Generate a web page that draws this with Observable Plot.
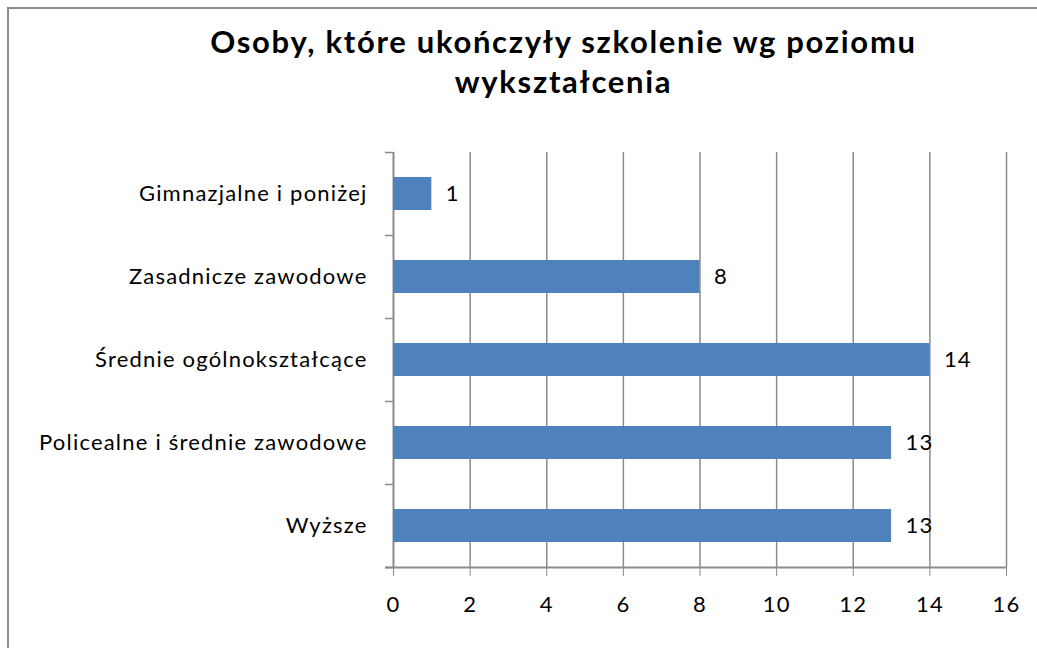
<!DOCTYPE html>
<html>
<head>
<meta charset="utf-8">
<script src="https://cdn.jsdelivr.net/npm/d3@7"></script>
<script src="https://cdn.jsdelivr.net/npm/@observablehq/plot@0.6"></script>
<style>
  html, body { margin: 0; padding: 0; background: #fff; width: 1037px; height: 648px; overflow: hidden; }
  #frame { position: absolute; left: 7px; top: 7px; width: 1100px; height: 700px; border-left: 2px solid #8c8c8c; border-top: 2px solid #8c8c8c; }
  #title { position: absolute; left: 0; top: 21px; width: 1127px; text-align: center; font-family: Lato, sans-serif; font-weight: bold; font-size: 31px; letter-spacing: 1.7px; line-height: 40px; color: #000; }
  #chart { position: absolute; left: 0; top: 100px; }
</style>
</head>
<body>
<div id="frame"></div>
<div id="title">Osoby, które ukończyły szkolenie wg poziomu<br>wykształcenia</div>
<div id="chart"></div>
<script>
const categories = ["Gimnazjalne i poniżej", "Zasadnicze zawodowe", "Średnie ogólnokształcące", "Policealne i średnie zawodowe", "Wyższe"];
const values = [1, 8, 14, 13, 13];
const xTicks = [0, 2, 4, 6, 8, 10, 12, 14, 16];

const data = categories.map((c, i) => ({category: c, value: values[i]}));
const gridColor = "#8c8c8c";
const font = "Lato, sans-serif";
const plotH = 548, mTop = 52, mBottom = 81;
const step = (plotH - mTop - mBottom) / categories.length;

const chart = Plot.plot({
  width: 1037,
  height: plotH,
  marginTop: mTop,
  marginBottom: mBottom,
  marginLeft: 393,
  marginRight: 31,
  style: {fontFamily: font, fontSize: "22px", letterSpacing: "1.2px", color: "#000", background: "transparent"},
  x: {domain: [0, 16], ticks: xTicks},
  y: {domain: categories, paddingInner: 0.6, paddingOuter: 0.3},
  marks: [
    Plot.ruleX(xTicks.slice(1), {stroke: gridColor, strokeWidth: 1.5}),
    Plot.ruleX([0], {stroke: gridColor, strokeWidth: 2}),
    Plot.barX(data, {x: "value", y: "category", fill: "#4F81BD"}),
    Plot.ruleY(categories, {y: d => d, x1: 0, x2: 0, insetLeft: -8, dy: step / 2, stroke: gridColor, strokeWidth: 1.5}),
    Plot.ruleY([categories[0]], {y: d => d, x1: 0, x2: 0, insetLeft: -8, dy: -step / 2, stroke: gridColor, strokeWidth: 1.5}),
    Plot.ruleY([categories[categories.length - 1]], {y: d => d, x1: 0, x2: 16, insetLeft: -8, dy: step / 2, stroke: gridColor, strokeWidth: 2}),
    Plot.text(data, {x: "value", y: "category", text: d => String(d.value), dx: 14, textAnchor: "start", fontSize: 22, fill: "#000"}),
    Plot.axisX({ticks: xTicks, tickSize: 9, tickPadding: 20, stroke: gridColor, fontSize: 22, label: null, tickFormat: d => String(d)}),
    Plot.axisY({tickSize: 0, tickPadding: 26, fontSize: 22, label: null})
  ]
});
document.getElementById("chart").appendChild(chart);
</script>
</body>
</html>
